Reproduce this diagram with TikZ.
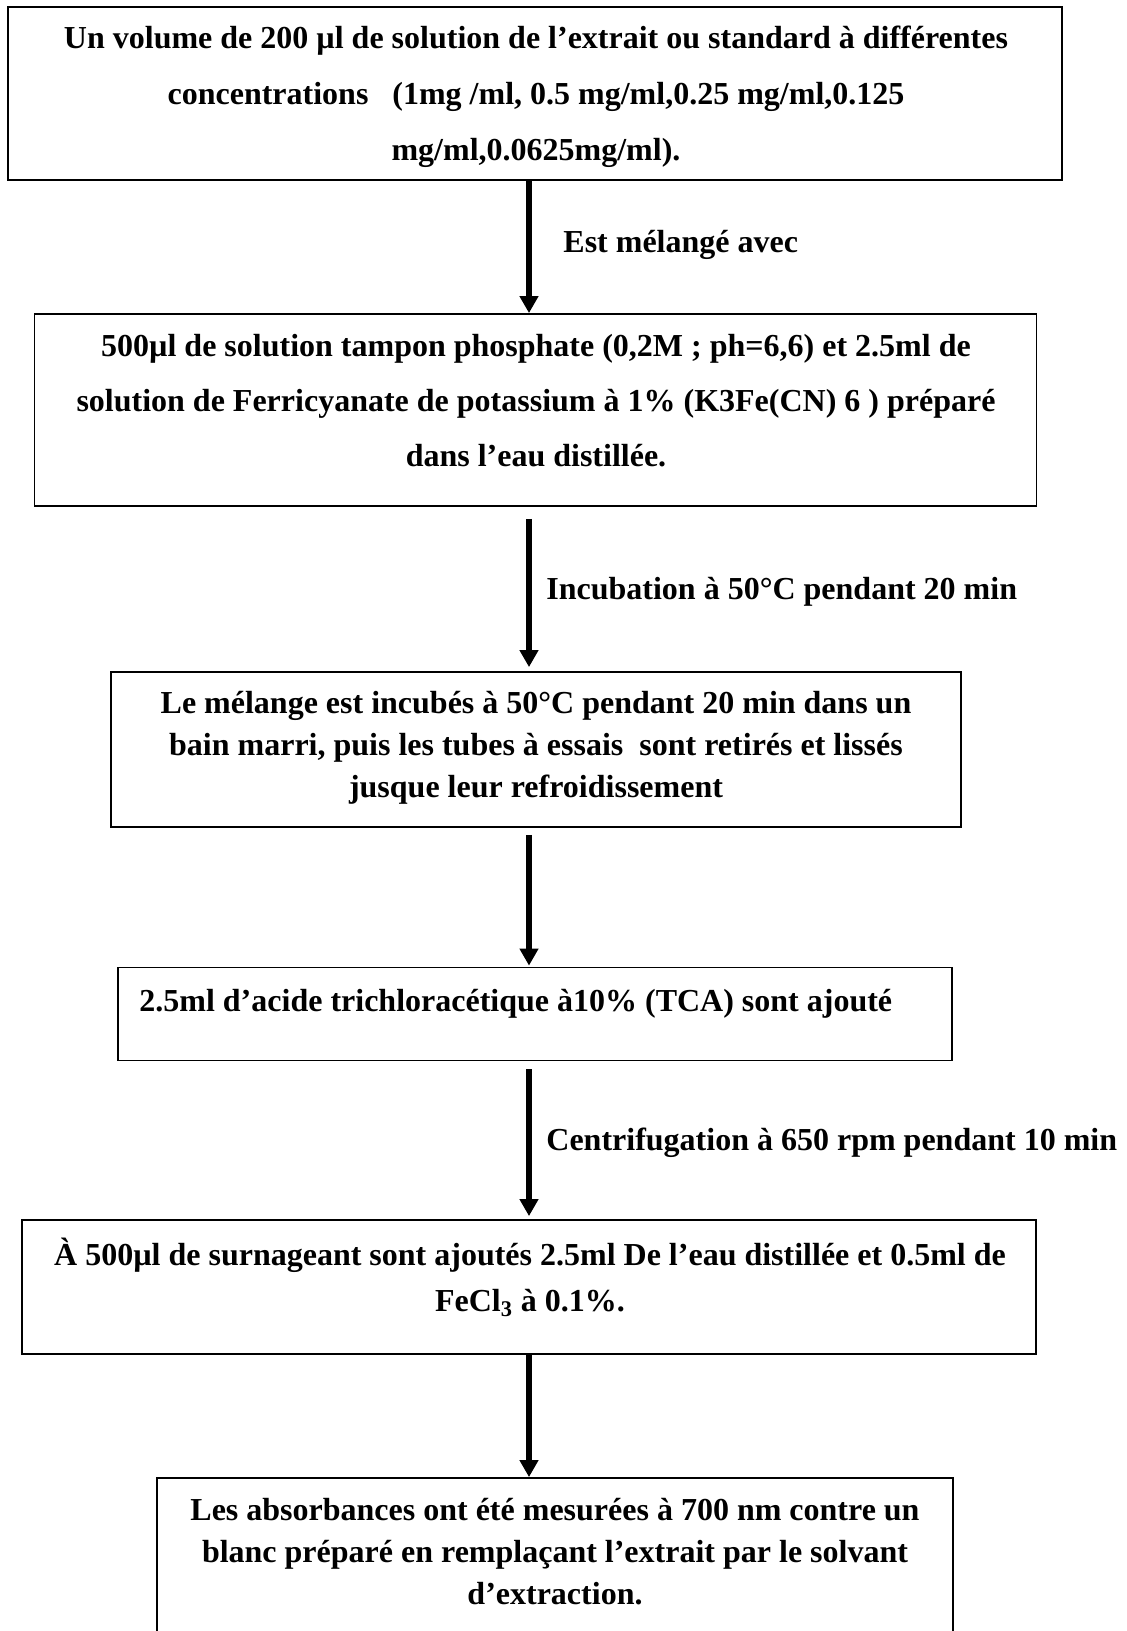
\documentclass[tikz,border=0pt]{standalone}
\usepackage{fontspec}
\setmainfont{Liberation Serif}
\usepackage{tikz}
\usetikzlibrary{arrows.meta,positioning}

\begin{document}
\begin{tikzpicture}[x=0.5pt, y=-0.5pt, font=\bfseries\fontsize{16pt}{21pt}\selectfont,
    box/.style={draw, line width=0.9pt, inner sep=0pt},
    txt/.style={align=center, inner sep=0pt},
    lbl/.style={anchor=west, inner sep=0pt},
    flow/.style={-{Triangle[length=8.5pt, width=9pt]}, line width=3pt}]
      \useasboundingbox (0,0) rectangle (1127,1631);
      \clip (0,0) rectangle (1127,1631);
      \node[box, minimum width=527pt, minimum height=86.5pt] (b1) at (535,93.5) {};
      \node[txt, font=\bfseries\fontsize{16pt}{28pt}\selectfont] (t1) at (536,96.5) {Un volume de 200 µl de solution de l’extrait ou standard à différentes\\concentrations~~ (1mg /ml, 0.5 mg/ml,0.25 mg/ml,0.125\\mg/ml,0.0625mg/ml).};
      \node[box, minimum width=501pt, minimum height=96pt] (b2) at (535.5,410) {};
      \node[txt, font=\bfseries\fontsize{16pt}{27.5pt}\selectfont] (t2) at (536,400.5) {500µl de solution tampon phosphate (0,2M ; ph=6,6) et 2.5ml de\\solution de Ferricyanate de potassium à 1\% (K3Fe(CN) 6 ) préparé\\dans l’eau distillée.};
      \node[box, minimum width=425pt, minimum height=77.5pt] (b3) at (536,749.5) {};
      \node[txt] (t3) at (536,747.5) {Le mélange est incubés à 50°C pendant 20 min dans un\\bain marri, puis les tubes à essais~ sont retirés et lissés\\jusque leur refroidissement};
      \node[box, minimum width=417pt, minimum height=46.5pt] (b4) at (535,1014) {};
      \node[lbl] (t4) at (139,1003.5) {2.5ml d’acide trichloracétique à10\% (TCA) sont ajouté};
      \node[box, minimum width=507pt, minimum height=67pt] (b5) at (529,1287) {};
      \node[txt, font=\bfseries\fontsize{16pt}{23pt}\selectfont] (t5) at (530,1277) {À 500µl de surnageant sont ajoutés 2.5ml De l’eau distillée et 0.5ml de\\FeCl\textsubscript{3} à 0.1\%.};
      \node[box, minimum width=398pt, minimum height=90pt] (b6) at (555,1568) {};
      \node[txt] (t6) at (555,1551.5) {Les absorbances ont été mesurées à 700 nm contre un\\blanc préparé en remplaçant l’extrait par le solvant\\d’extraction.};
      \draw[flow] ([xshift=-3pt]b1.south) -- ([xshift=-3.25pt]b2.north);
      \draw[flow, shorten <=6pt, shorten >=2pt] ([xshift=-3.25pt]b2.south) -- ([xshift=-3.5pt]b3.north);
      \draw[flow, shorten <=3.5pt, shorten >=0.5pt] ([xshift=-3.5pt]b3.south) -- ([xshift=-3pt]b4.north);
      \draw[flow, shorten <=4pt, shorten >=1.5pt] ([xshift=-3pt]b4.south) -- (b5.north);
      \draw[flow] (b5.south) -- ([xshift=-13pt]b6.north);
      \node[lbl] (l1) at (563,245) {Est mélangé avec};
      \node[lbl] (l2) at (546,591.5) {Incubation à 50°C pendant 20 min};
      \node[lbl] (l3) at (546,1143) {Centrifugation à 650 rpm pendant 10 min};
    \end{tikzpicture}
\end{document}
